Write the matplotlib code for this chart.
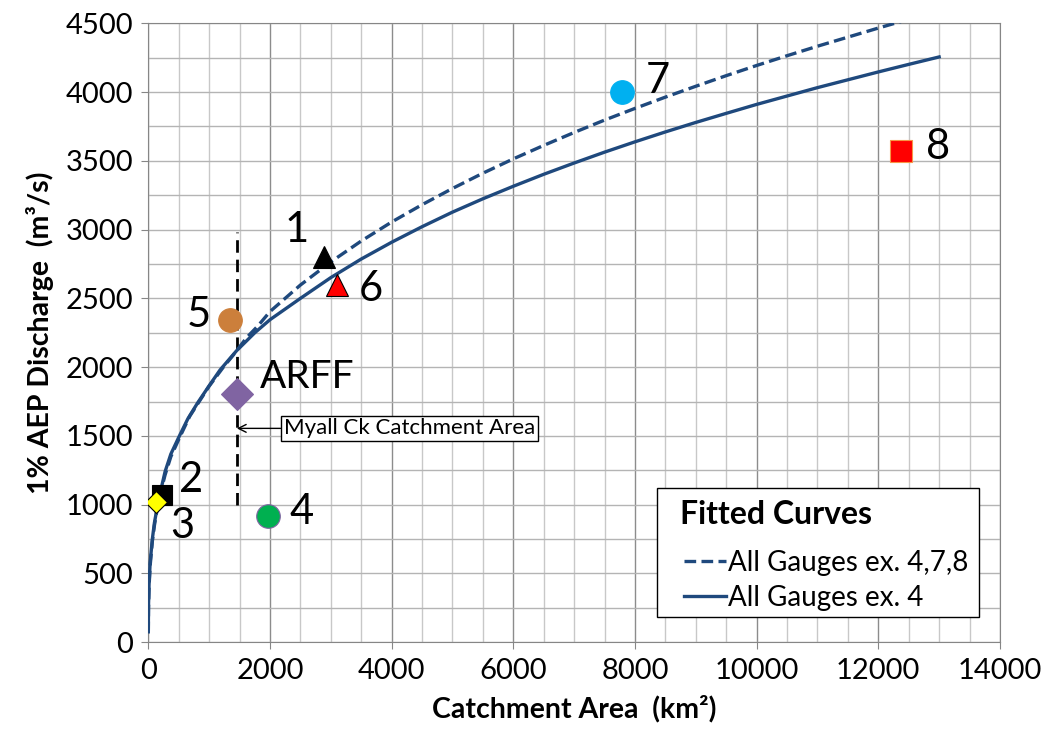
import matplotlib
matplotlib.use("Agg")
import matplotlib.pyplot as plt
from matplotlib.patches import Rectangle
from matplotlib.ticker import MultipleLocator

plt.rcParams["font.family"] = ["Lato", "DejaVu Sans"]

# gauge sites: catchment area (km2) and 1% AEP discharge (m3/s)
gauge_labels = ["1", "2", "3", "4", "5", "6", "7", "8", "ARFF"]
gauge_area = [2880, 230, 130, 1960, 1350, 3100, 7790, 12370, 1455]
gauge_q = [2800, 1070, 1020, 920, 2340, 2600, 4000, 3570, 1805]

# fitted curves, sampled along their length
fit_all_ex4_area = [0.07, 3, 12, 30, 66, 100, 154, 210, 275, 370, 500, 650, 810,
                    1000, 1180, 1450, 1750, 2000, 2500, 3000, 3500, 4000, 4500,
                    5000, 5500, 6000, 6500, 7000, 7500, 8000, 8500, 9000, 9500,
                    10000, 10500, 11000, 11500, 12000, 12500, 13000]
fit_all_ex4_q = [78, 270, 420, 580, 750, 868, 1000, 1115, 1240, 1368, 1490, 1625,
                 1740, 1865, 1980, 2119, 2250, 2345, 2500, 2651, 2786, 2908, 3021,
                 3127, 3224, 3315, 3402, 3484, 3563, 3638, 3710, 3779, 3845,
                 3910, 3971, 4032, 4089, 4146, 4201, 4255]
fit_ex478_area = [0.07, 3, 12, 30, 66, 100, 154, 210, 275, 370, 500, 680, 880,
                  1000, 1233, 1400, 1617, 1800, 2000, 2500, 3000, 3500, 4000,
                  4500, 5000, 5500, 6000, 6500, 7000, 7500, 8000, 8500, 9000,
                  9500, 10000, 10500, 11000, 11500, 12000, 12500, 13000]
fit_ex478_q = [65, 244, 404, 556, 734, 849, 989, 1103, 1216, 1349, 1475, 1643,
               1780, 1862, 2000, 2090, 2215, 2299, 2404, 2597, 2765, 2917, 3055,
               3181, 3299, 3410, 3514, 3612, 3706, 3796, 3881, 3963, 4042,
               4119, 4193, 4264, 4333, 4399, 4465, 4529, 4590]

MYALL_AREA = 1455
MYALL_LINE_Q = [1000, 2980]

# marker style per gauge: (marker, face, edge, size)
styles = {
    "1": ("^", "black", "black", 16),
    "2": ("s", "black", "black", 15),
    "3": ("D", "#FFFF00", "black", 11),
    "4": ("o", "#00B050", "#8064A2", 17),
    "5": ("o", "#CC7F3B", "#CC7F3B", 17),
    "6": ("^", "#FF0000", "black", 16),
    "7": ("o", "#00B0F0", "#00B0F0", 17),
    "8": ("s", "#FF0000", "#F79646", 16),
    "ARFF": ("D", "#8064A2", "#8064A2", 16),
}

# label centre positions in data units
label_pos = {
    "1": (2445, 3000),
    "2": (700, 1180),
    "3": (560, 845),
    "4": (2520, 948),
    "5": (833, 2380),
    "6": (3660, 2570),
    "7": (8370, 4078),
    "8": (12980, 3598),
}

fig = plt.figure(figsize=(10.46, 7.38), dpi=100)
ax = fig.add_axes([0.1418, 0.1297, 0.8142, 0.8388])

curve_col = "#1F497D"
ax.plot(fit_ex478_area, fit_ex478_q, color=curve_col, lw=2.4,
        linestyle=(0, (3.5, 1.6)), label="All Gauges ex. 4,7,8", zorder=3)
ax.plot(fit_all_ex4_area, fit_all_ex4_q, color=curve_col, lw=2.4,
        label="All Gauges ex. 4", zorder=3)

ax.plot([MYALL_AREA, MYALL_AREA], MYALL_LINE_Q, color="black", lw=2,
        linestyle=(0, (4.5, 2.5)), zorder=2)

for name, a, q in zip(gauge_labels, gauge_area, gauge_q):
    m, fc, ec, ms = styles[name]
    ax.plot([a], [q], marker=m, ms=ms, mfc=fc, mec=ec, mew=0.8,
            linestyle="none", zorder=4)
    if name in label_pos:
        lx, ly = label_pos[name]
        ax.text(lx, ly, name, fontsize=30, ha="center", va="center", zorder=5)

ax.text(1838, 1926, "ARFF", fontsize=28, ha="left", va="center", zorder=5)

ax.annotate("Myall Ck Catchment Area", xy=(MYALL_AREA, 1555), xytext=(2225, 1555),
            fontsize=16, ha="left", va="center",
            bbox=dict(boxstyle="square,pad=0.12", fc="white", ec="black", lw=1),
            arrowprops=dict(arrowstyle="->", color="black", lw=1,
                            shrinkA=0, shrinkB=0, mutation_scale=14),
            zorder=5)

ax.set_xlim(0, 14000)
ax.set_ylim(0, 4500)
ax.xaxis.set_major_locator(MultipleLocator(2000))
ax.xaxis.set_minor_locator(MultipleLocator(500))
ax.yaxis.set_major_locator(MultipleLocator(500))
ax.yaxis.set_minor_locator(MultipleLocator(250))
ax.grid(which="major", axis="x", color="#8C8C8C", lw=1)
ax.grid(which="minor", axis="x", color="#C8C8C8", lw=1)
ax.grid(which="both", axis="y", color="#B4B4B4", lw=1)
ax.set_axisbelow(True)
ax.tick_params(which="major", length=5, color="#868686", labelsize=21, pad=6)
ax.tick_params(which="minor", length=0)
for sp in ax.spines.values():
    sp.set_color("#868686")

ax.set_xlabel("Catchment Area  (km²)", fontsize=20.5, fontweight="bold", labelpad=8)
ax.set_ylabel("1% AEP Discharge  (m³/s)", fontsize=20.5, fontweight="bold", labelpad=8)

# legend panel: framed box, bold heading, then the two curve entries
ax.add_patch(Rectangle((0.597, 0.041), 0.378, 0.208, transform=ax.transAxes,
                       fc="white", ec="black", lw=1, zorder=6))
ax.text(0.6243, 0.2057, "Fitted Curves", transform=ax.transAxes, fontsize=23,
        fontweight="bold", ha="left", va="center", zorder=7)
leg = ax.legend(loc="center left", bbox_to_anchor=(0.629, 0.0998),
                borderaxespad=0, fontsize=20, frameon=False,
                handlelength=1.5, handletextpad=0.1, borderpad=0,
                labelspacing=0.33)
leg.set_zorder(7)

fig.savefig("out.png", dpi=100)
